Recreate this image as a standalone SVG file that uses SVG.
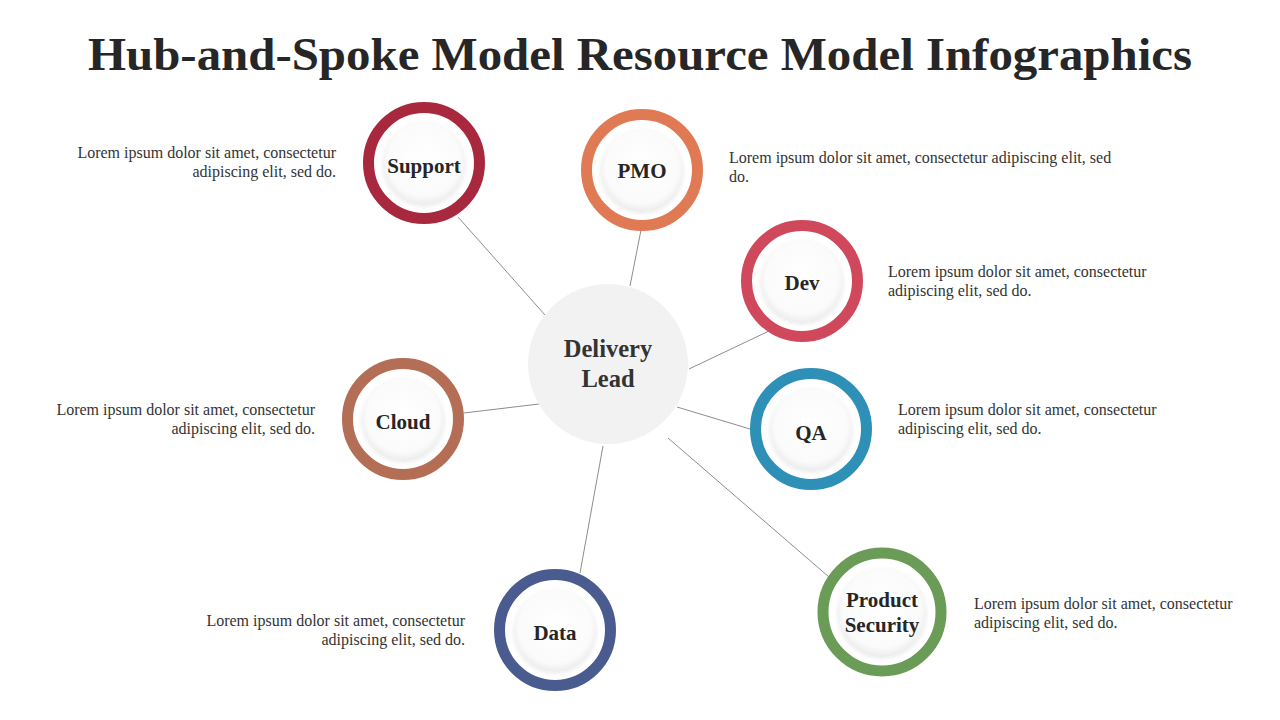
<svg xmlns="http://www.w3.org/2000/svg" width="1280" height="720" viewBox="0 0 1280 720">
<defs>
<radialGradient id="inner" cx="0.5" cy="0.45" r="0.55">
<stop offset="0" stop-color="#ffffff"/>
<stop offset="0.8" stop-color="#fbfbfb"/>
<stop offset="1" stop-color="#ececec"/>
</radialGradient>
<filter id="sh" x="-30%" y="-30%" width="160%" height="160%">
<feGaussianBlur in="SourceAlpha" stdDeviation="2"/>
<feOffset dy="1" result="b"/>
<feFlood flood-color="#000" flood-opacity="0.1"/>
<feComposite in2="b" operator="in"/>
<feMerge><feMergeNode/><feMergeNode in="SourceGraphic"/></feMerge>
</filter>
</defs>
<style>
.title{font-family:"Liberation Serif",serif;font-weight:bold;font-size:46px;fill:#262626}
.lbl{font-family:"Liberation Serif",serif;font-weight:bold;font-size:21px;fill:#262626;text-anchor:middle}
.hub{font-family:"Liberation Serif",serif;font-weight:bold;font-size:24.5px;fill:#333;text-anchor:middle}
.desc{font-family:"Liberation Serif",serif;font-size:16px;fill:#333}
.r{text-anchor:end}
.ring{fill:#fff;stroke-width:11}
.in{fill:url(#inner)}
.conn line{stroke:#8c8c8c;stroke-width:1}
</style>
<rect width="1280" height="720" fill="#fff"/>
<text class="title" x="640" y="70" text-anchor="middle" textLength="1104" lengthAdjust="spacingAndGlyphs">Hub-and-Spoke Model Resource Model Infographics</text>
<g id="connectors" class="conn">
<line x1="458" y1="217" x2="545" y2="315"/>
<line x1="641" y1="230" x2="630" y2="286"/>
<line x1="769" y1="331" x2="689" y2="369"/>
<line x1="750" y1="429" x2="677" y2="407"/>
<line x1="829" y1="577" x2="668" y2="438"/>
<line x1="580" y1="573" x2="603" y2="446"/>
<line x1="464" y1="413" x2="539" y2="404"/>
</g>
<g id="hub">
<circle cx="608" cy="364" r="80" fill="#f2f2f2"/>
<text class="hub" x="608" y="357">Delivery</text>
<text class="hub" x="608" y="387">Lead</text>
</g>
<g id="support">
<circle class="ring" cx="424" cy="163" r="55.5" stroke="#A8283D"/>
<circle class="in" cx="424" cy="164" r="41" filter="url(#sh)"/>
<text class="lbl" x="424" y="173">Support</text>
<text class="desc r" x="336" y="158">Lorem ipsum dolor sit amet, consectetur</text>
<text class="desc r" x="336" y="177">adipiscing elit, sed do.</text>
</g>
<g id="pmo">
<circle class="ring" cx="642" cy="170" r="55.5" stroke="#E07A55"/>
<circle class="in" cx="642" cy="171" r="41" filter="url(#sh)"/>
<text class="lbl" x="642" y="178">PMO</text>
<text class="desc" x="729" y="163">Lorem ipsum dolor sit amet, consectetur adipiscing elit, sed</text>
<text class="desc" x="729" y="182">do.</text>
</g>
<g id="dev">
<circle class="ring" cx="802" cy="281" r="55.5" stroke="#D0485C"/>
<circle class="in" cx="802" cy="282" r="41" filter="url(#sh)"/>
<text class="lbl" x="802" y="290">Dev</text>
<text class="desc" x="888" y="277">Lorem ipsum dolor sit amet, consectetur</text>
<text class="desc" x="888" y="296">adipiscing elit, sed do.</text>
</g>
<g id="qa">
<circle class="ring" cx="811" cy="429" r="55.5" stroke="#2E90B6"/>
<circle class="in" cx="811" cy="430" r="41" filter="url(#sh)"/>
<text class="lbl" x="811" y="440">QA</text>
<text class="desc" x="898" y="415">Lorem ipsum dolor sit amet, consectetur</text>
<text class="desc" x="898" y="434">adipiscing elit, sed do.</text>
</g>
<g id="product-security">
<circle class="ring" cx="882" cy="612" r="59" stroke="#6A9C57"/>
<circle class="in" cx="882" cy="613" r="44" filter="url(#sh)"/>
<text class="lbl" x="882" y="607">Product</text>
<text class="lbl" x="882" y="632">Security</text>
<text class="desc" x="974" y="609">Lorem ipsum dolor sit amet, consectetur</text>
<text class="desc" x="974" y="628">adipiscing elit, sed do.</text>
</g>
<g id="data">
<circle class="ring" cx="555" cy="630" r="55.5" stroke="#4A5B8F"/>
<circle class="in" cx="555" cy="631" r="41" filter="url(#sh)"/>
<text class="lbl" x="555" y="640">Data</text>
<text class="desc r" x="465" y="626">Lorem ipsum dolor sit amet, consectetur</text>
<text class="desc r" x="465" y="645">adipiscing elit, sed do.</text>
</g>
<g id="cloud">
<circle class="ring" cx="403" cy="419" r="55.5" stroke="#B56E56"/>
<circle class="in" cx="403" cy="420" r="41" filter="url(#sh)"/>
<text class="lbl" x="403" y="429">Cloud</text>
<text class="desc r" x="315" y="415">Lorem ipsum dolor sit amet, consectetur</text>
<text class="desc r" x="315" y="434">adipiscing elit, sed do.</text>
</g>
</svg>
